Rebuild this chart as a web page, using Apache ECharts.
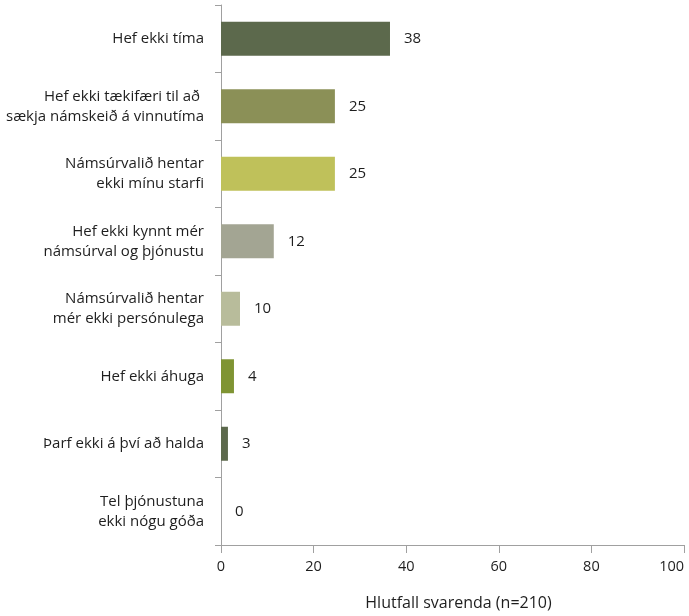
<!DOCTYPE html>
<html>
<head>
<meta charset="utf-8">
<script src="https://cdn.jsdelivr.net/npm/echarts@6/dist/echarts.min.js"></script>
<style>html,body{margin:0;padding:0;background:#fff}#c{width:689px;height:616px}</style>
</head>
<body>
<div id="c"></div>
<script>
const categories = [
  "Hef ekki tíma",
  "Hef ekki tækifæri til að \nsækja námskeið á vinnutíma",
  "Námsúrvalið hentar\nekki mínu starfi",
  "Hef ekki kynnt mér\nnámsúrval og þjónustu",
  "Námsúrvalið hentar\nmér ekki persónulega",
  "Hef ekki áhuga",
  "Þarf ekki á því að halda",
  "Tel þjónustuna\nekki nógu góða"
];
const barValues = [36.5, 24.6, 24.6, 11.4, 4.1, 2.8, 1.5, 0];
const barLabels = ["38", "25", "25", "12", "10", "4", "3", "0"];
const barColors = ["#5c694c", "#8b9057", "#bfc15a", "#a3a593", "#b8bc9b", "#7f9433", "#5c694c", "#7f9433"];
const xTicks = [0, 20, 40, 60, 80, 100];
const xName = "Hlutfall svarenda (n=210)";

const font = "'Open Sans', sans-serif";
const chart = echarts.init(document.getElementById('c'), null, {renderer: 'canvas'});
chart.setOption({
  animation: false,
  grid: {left: 221, right: 5, top: 5, bottom: 71, containLabel: false, outerBoundsMode: 'none'},
  xAxis: {
    type: 'value', min: xTicks[0], max: xTicks[xTicks.length - 1], interval: 20,
    name: xName, nameLocation: 'middle', nameGap: 50,
    nameTextStyle: {fontFamily: font, fontSize: 16, color: '#1e1e1e', padding: [0, 0, 0, 12]},
    axisLine: {show: true, lineStyle: {color: '#a0a0a0', width: 1}},
    axisTick: {show: true, length: 8, lineStyle: {color: '#a0a0a0'}},
    axisLabel: {margin: 14, fontFamily: font, fontSize: 14.5, color: '#1e1e1e', alignMaxLabel: 'right'},
    splitLine: {show: false}
  },
  yAxis: {
    type: 'category', data: categories, inverse: true,
    axisLine: {show: true, lineStyle: {color: '#a0a0a0', width: 1}},
    axisTick: {show: true, length: 6, lineStyle: {color: '#a0a0a0'}},
    axisLabel: {margin: 17, fontFamily: font, fontSize: 15, color: '#1e1e1e', lineHeight: 20, align: 'right'}
  },
  series: [{
    type: 'bar', barWidth: 34,
    data: barValues.map((v, i) => ({value: v, itemStyle: {color: barColors[i]}})),
    label: {
      show: true, position: 'right', distance: 14,
      fontFamily: font, fontSize: 15, color: '#1e1e1e',
      formatter: p => barLabels[p.dataIndex]
    }
  }]
});
</script>
</body>
</html>
